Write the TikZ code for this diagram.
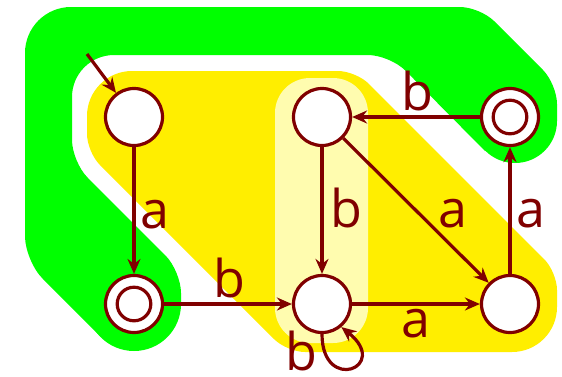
\documentclass[tikz,border=0pt]{standalone}
\usepackage{fontspec}
\setmainfont{Open Sans}
\usetikzlibrary{arrows.meta}
\definecolor{maroonc}{HTML}{800000}
\definecolor{greenc}{HTML}{00FF00}
\definecolor{yellowc}{HTML}{FFEE00}
\definecolor{palec}{RGB}{255,252,175}
\tikzset{
  stnode/.style={circle, draw=maroonc, fill=white, line width=3.2pt, minimum size=57pt, inner sep=0pt},
  accring/.style={draw=maroonc, line width=3.2pt},
  conn/.style={draw=maroonc, line width=3.2pt, -{Stealth[length=15pt,width=13pt,inset=5pt]}},
  lbl/.style={text=maroonc, inner sep=0pt, font=\fontsize{52}{60}\selectfont, anchor=base}
}
\begin{document}
\begin{tikzpicture}[x=1pt,y=-1pt]
\useasboundingbox (0,0) rectangle (562,376);
\fill[white] (0,0) rectangle (562,376);
% green region
\fill[greenc] (515,121) circle[radius=42];
\fill[greenc] (134,304) circle[radius=47];
\fill[greenc] (200,7)
  [rounded corners=20] -- (480,7) -- (557,84)
  [sharp corners] -- (557,121) -- (515,121) -- (485,151)
  [rounded corners=22] -- (390,55)
  [rounded corners=42] -- (72,55)
  [rounded corners=22] -- (72,162) -- (181,271)
  [sharp corners] -- (181,304) -- (134,304) -- (101,337)
  [rounded corners=25] -- (25,261)
  [rounded corners=46] -- (25,7)
  [sharp corners] -- cycle;
% yellow region
\fill[yellowc] (200,71)
  [rounded corners=18] -- (356,71) -- (557,272)
  [rounded corners=45] -- (557,352)
  [rounded corners=18] -- (287,352) -- (87,152)
  [rounded corners=45] -- (87,71)
  [sharp corners] -- cycle;
% pale region
\fill[palec, rounded corners=35] (275,78) rectangle (368,343);
% states
\node[stnode] (q0) at (134,117) {};
\node[stnode] (q1) at (134,304) {};
\node[stnode] (q2) at (322,117) {};
\node[stnode] (q3) at (510,117) {};
\node[stnode] (q4) at (322,304) {};
\node[stnode] (q5) at (510,304) {};
\draw[accring] (q1.center) circle[radius=16.8];
\draw[accring] (q3.center) circle[radius=16.8];
\coordinate (init) at (87,54);
% connectors
\draw[conn] (init) -- (q0);
\draw[conn] (q0) -- (q1);
\draw[conn] (q1) -- (q4);
\draw[conn] (q2) -- (q4);
\draw[conn] (q2) -- (q5);
\draw[conn] (q4) -- (q5);
\draw[conn] (q5) -- (q3);
\draw[conn] (q3) -- (q2);
\draw[conn] (q4.south) .. controls +(0,60) and +(50,40) .. (q4.-50);
% labels
\node[lbl] (l01) at (154.5,228) {a};
\node[lbl] (l14) at (229,297) {b};
\node[lbl] (l24) at (346,227) {b};
\node[lbl] (l25) at (453,227) {a};
\node[lbl] (l45) at (416,337) {a};
\node[lbl] (l53) at (531,227) {a};
\node[lbl] (l32) at (417.5,110) {b};
\node[lbl] (l44) at (301,370) {b};
\end{tikzpicture}
\end{document}
